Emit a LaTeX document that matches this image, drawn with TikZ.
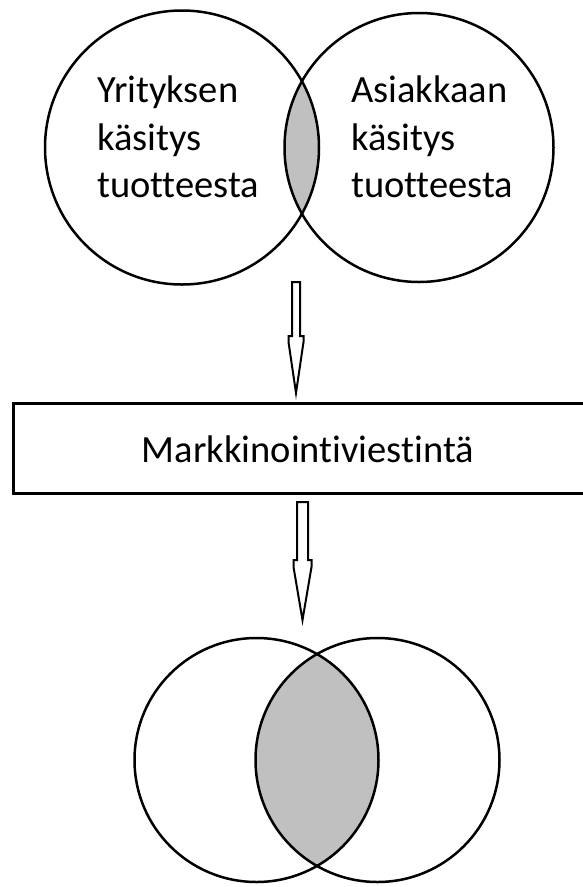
\documentclass[tikz,border=0pt]{standalone}
\usepackage{fontspec}
\setmainfont{Carlito}[Ligatures={NoCommon}]
\definecolor{lensgray}{RGB}{192,192,192}
\tikzset{
  ring/.style={circle, draw=black, line width=2.5, inner sep=0pt, outer sep=0pt},
  blockarrow/.style={draw=black, line width=2, fill=white, line join=miter},
  lbl/.style={anchor=base west, inner sep=0pt, font=\fontsize{38.5}{47.5}\selectfont},
  boxlbl/.style={anchor=center, inner sep=0pt, font=\fontsize{38.5}{47.5}\selectfont},
}
\begin{document}
\begin{tikzpicture}[x=1pt, y=-1pt]
\useasboundingbox (0,0) rectangle (582,887);
% top lens fill
\begin{scope}
  \clip (182,147.5) circle (137);
  \fill[lensgray] (419,147.5) circle (134.5);
\end{scope}
\node[ring, minimum size=274] (c1) at (182,147.5) {};
\node[ring, minimum size=269] (c2) at (419,147.5) {};
% texts
\node[lbl] (t1a) at (97,102) {Yrityksen};
\node[lbl] (t1b) at (97,150) {käsitys};
\node[lbl] (t1c) at (97,197) {tuotteesta};
\node[lbl] (t2a) at (351,102) {Asiakkaan};
\node[lbl] (t2b) at (351,150) {käsitys};
\node[lbl] (t2c) at (351,197) {tuotteesta};
% box
\node[draw=black, line width=3, minimum width=600, minimum height=90, anchor=west, inner sep=0pt] (box) at (12,448) {};
\node[boxlbl] (boxtext) at (308,449) {Markkinointiviestintä};
% arrow 1
\draw[blockarrow] (292,282) -- (300,282) -- (300,336) -- (303.5,336) -- (303.5,342) -- (296,393) -- (288.5,342) -- (288.5,336) -- (292,336) -- cycle;
% arrow 2
\draw[blockarrow] (297,502) -- (308,502) -- (308,560) -- (311.5,560) -- (311.5,567) -- (302.5,620) -- (293.5,567) -- (293.5,560) -- (297,560) -- cycle;
% bottom lens fill
\begin{scope}
  \clip (256.5,760) circle (122);
  \fill[lensgray] (377.5,760) circle (122);
\end{scope}
\node[ring, minimum size=244] (c3) at (256.5,760) {};
\node[ring, minimum size=244] (c4) at (377.5,760) {};
\end{tikzpicture}
\end{document}
